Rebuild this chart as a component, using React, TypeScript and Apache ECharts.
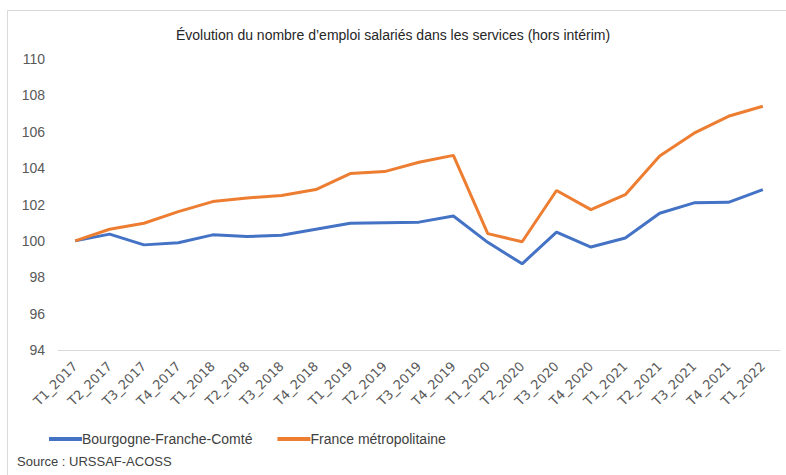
import React, { useEffect, useRef } from "react";
import * as echarts from "echarts";

const categories = [
  "T1_2017", "T2_2017", "T3_2017", "T4_2017",
  "T1_2018", "T2_2018", "T3_2018", "T4_2018",
  "T1_2019", "T2_2019", "T3_2019", "T4_2019",
  "T1_2020", "T2_2020", "T3_2020", "T4_2020",
  "T1_2021", "T2_2021", "T3_2021", "T4_2021",
  "T1_2022",
];

const bfcValues = [
  100, 100.37, 99.78, 99.9, 100.33, 100.24, 100.31, 100.64, 100.97, 101.0,
  101.03, 101.37, 99.92, 98.74, 100.48, 99.66, 100.16, 101.52, 102.09, 102.12,
  102.82,
];

const franceValues = [
  100, 100.64, 100.97, 101.61, 102.16, 102.36, 102.49, 102.82, 103.7, 103.81,
  104.32, 104.7, 100.4, 99.95, 102.77, 101.72, 102.54, 104.67, 105.92, 106.85,
  107.4,
];

const seriesNames = ["Bourgogne-Franche-Comté", "France métropolitaine"];
const title = "Évolution du nombre d\u2019emploi salariés dans les services (hors intérim)";
const source = "Source : URSSAF-ACOSS";

const font = "'Liberation Sans Narrow', 'Liberation Sans', sans-serif";
const tickFont = "'Liberation Sans', sans-serif";

export default function App() {
  const ref = useRef<HTMLDivElement>(null);
  useEffect(() => {
    if (!ref.current) return;
    const chart = echarts.init(ref.current, undefined, { renderer: "svg" });
    chart.setOption({
      animation: false,
      backgroundColor: "#ffffff",
      title: {
        text: title,
        left: "center",
        top: 23,
        textStyle: { fontFamily: font, fontSize: 14, fontWeight: "normal", color: "#262626" },
      },
      grid: { left: 58, right: 6, top: 59, bottom: 125, containLabel: false },
      xAxis: {
        type: "category",
        data: categories,
        boundaryGap: true,
        axisLine: { show: true, lineStyle: { color: "#d9d9d9", width: 1 } },
        axisTick: { show: false },
        axisLabel: {
          rotate: 45,
          interval: 0,
          margin: 14,
          color: "#595959",
          fontFamily: "'DejaVu Sans', sans-serif",
          fontSize: 13,
        },
      },
      yAxis: {
        type: "value",
        min: 94,
        max: 110,
        interval: 2,
        axisLine: { show: false },
        axisTick: { show: false },
        splitLine: { show: false },
        axisLabel: { color: "#595959", fontFamily: tickFont, fontSize: 14, margin: 13 },
      },
      legend: {
        left: 44,
        top: 427,
        itemWidth: 33,
        itemHeight: 4,
        itemGap: 25,
        icon: "rect",
        textStyle: { fontFamily: font, fontSize: 14, color: "#404040", padding: [0, 0, 0, -5] },
        data: seriesNames,
      },
      series: [
        {
          name: seriesNames[0],
          type: "line",
          data: bfcValues,
          symbol: "none",
          lineStyle: { color: "#4472C4", width: 3 },
          itemStyle: { color: "#4472C4" },
        },
        {
          name: seriesNames[1],
          type: "line",
          data: franceValues,
          symbol: "none",
          lineStyle: { color: "#ED7D31", width: 3 },
          itemStyle: { color: "#ED7D31" },
        },
      ],
      graphic: [
        {
          type: "rect",
          shape: { x: 7.5, y: 10.5, width: 800, height: 500 },
          style: { fill: "none", stroke: "#d9d9d9", lineWidth: 1 },
          silent: true,
        },
        {
          type: "text",
          left: 17,
          top: 455,
          style: { text: source, fontFamily: font, fontSize: 13, fill: "#404040" },
        },
      ],
    });
    return () => chart.dispose();
  }, []);
  return (
    <div
      ref={ref}
      style={{ width: 786, height: 475, position: "absolute", left: 0, top: 0 }}
    />
  );
}
